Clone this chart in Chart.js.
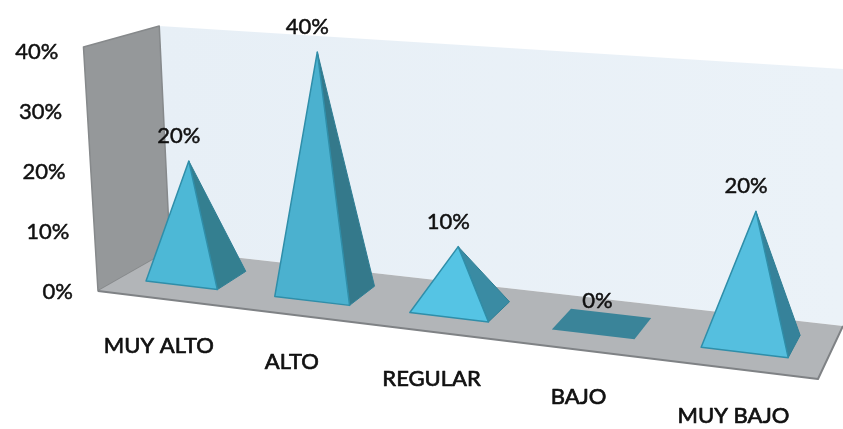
<!DOCTYPE html>
<html lang="es">
<head>
  <meta charset="UTF-8">
  <title>Pirámides</title>
  <style>
    html, body { margin: 0; padding: 0; background: #fff; }
    canvas { display: block; }
  </style>
</head>
<body>
  <canvas id="myChart" width="843" height="429"></canvas>

  <script src="https://cdn.jsdelivr.net/npm/chart.js"></script>
  <script>
    const categories = ['MUY ALTO', 'ALTO', 'REGULAR', 'BAJO', 'MUY BAJO'];
    const percents = [20, 40, 10, 0, 20];
    const axisTicks = [0, 10, 20, 30, 40];

    // face colours per pyramid, they drift a bit across the floor
    const frontColors = ['#4db8d6', '#4bb1cf', '#55c4e4', '#3a8499', '#55bfdf'];
    const sideColors = ['#347f90', '#34798b', '#3a8ba3', '#3a8499', '#36829a'];

    const FONT = '"Lato", "Open Sans", sans-serif';

    // floor corners on screen: front left, front right, back right, back left
    const floorQuad = [[98, 291], [818, 379], [843, 326], [170, 250]];
    // height stretch at the same four corners
    const stretch = [1.017, 1.2, 1.067, 0.933];
    const depthFront = 0.3, depthBack = 0.73, depthApex = 0.48;
    const uShift = -0.0035;
    const apexScale = 0.98;

    // unit square to floor quad
    function makeHomography(q) {
      const [p0, p1, p2, p3] = q;
      const sx = p0[0] - p1[0] + p2[0] - p3[0];
      const sy = p0[1] - p1[1] + p2[1] - p3[1];
      const dx1 = p1[0] - p2[0], dx2 = p3[0] - p2[0];
      const dy1 = p1[1] - p2[1], dy2 = p3[1] - p2[1];
      const den = dx1 * dy2 - dx2 * dy1;
      const g = (sx * dy2 - dx2 * sy) / den;
      const h = (dx1 * sy - sx * dy1) / den;
      return {
        a: p1[0] - p0[0] + g * p1[0], b: p3[0] - p0[0] + h * p3[0], c: p0[0],
        d: p1[1] - p0[1] + g * p1[1], e: p3[1] - p0[1] + h * p3[1], f: p0[1],
        g, h
      };
    }
    const H = makeHomography(floorQuad);

    // u along the category axis, d into the depth, h pixels above the floor
    function project(u, d, h) {
      const w = H.g * u + H.h * d + 1;
      const fx = (H.a * u + H.b * d + H.c) / w;
      const fy = (H.d * u + H.e * d + H.f) / w;
      const k = (1 - u) * (1 - d) * stretch[0] + u * (1 - d) * stretch[1] +
                u * d * stretch[2] + (1 - u) * d * stretch[3];
      const up = h * k;
      return [fx + up * (fx - 470) * 0.00016, fy - up];
    }

    function poly(ctx, pts, fill, stroke, lw) {
      ctx.beginPath();
      pts.forEach((p, i) => i ? ctx.lineTo(p[0], p[1]) : ctx.moveTo(p[0], p[1]));
      ctx.closePath();
      if (fill) { ctx.fillStyle = fill; ctx.fill(); }
      if (stroke) {
        ctx.strokeStyle = stroke;
        ctx.lineWidth = lw || 1;
        ctx.lineJoin = 'round';
        ctx.stroke();
      }
    }

    // Lato regular is a little light at this size, so thicken it with a thin outline
    function label(ctx, text, x, y, weight) {
      ctx.fillStyle = '#111';
      ctx.strokeStyle = '#111';
      ctx.lineWidth = weight;
      ctx.fillText(text, x, y);
      ctx.strokeText(text, x, y);
    }

    const scenePlugin = {
      id: 'scene',
      beforeDatasetsDraw(chart) {
        const { ctx } = chart;
        const y = chart.scales.y;
        const top = y.getPixelForValue(0) - y.getPixelForValue(y.max);

        const back = ctx.createLinearGradient(160, 0, 843, 0);
        back.addColorStop(0, '#e7eff6');
        back.addColorStop(1, '#ebf2f8');
        poly(ctx, [project(0, 1, 0), project(0, 1, top), project(1, 1, top), project(1, 1, 0)], back);
        poly(ctx, [project(0, 0, 0), project(0, 0, top), project(0, 1, top), project(0, 1, 0)], '#95989a', '#86898b', 1.5);
        poly(ctx, [project(0, 0, 0), project(1, 0, 0), project(1, 1, 0), project(0, 1, 0)], '#b2b5b8');

        ctx.beginPath();
        ctx.moveTo(...project(0, 0, 0));
        ctx.lineTo(...project(1, 0, 0));
        ctx.lineTo(...project(1, 1, 0));
        ctx.strokeStyle = '#7f8285';
        ctx.lineWidth = 2;
        ctx.stroke();
      },
      afterDatasetsDraw(chart) {
        const { ctx, chartArea } = chart;
        const y = chart.scales.y;
        const span = chartArea.right - chartArea.left;
        const meta = chart.getDatasetMeta(0);

        ctx.save();
        ctx.textAlign = 'center';
        ctx.textBaseline = 'middle';

        meta.data.forEach((bar, i) => {
          const props = bar.getProps(['x', 'y', 'base', 'width'], true);
          const u0 = (props.x - props.width / 2 - chartArea.left) / span + uShift;
          const u1 = (props.x + props.width / 2 - chartArea.left) / span + uShift;
          const uc = (u0 + u1) / 2;
          const rise = props.base - props.y;

          const fl = project(u0, depthFront, 0);
          const fr = project(u1, depthFront, 0);
          const br = project(u1, depthBack, 0);
          const bl = project(u0, depthBack, 0);
          const apex = project(uc, depthApex, rise * apexScale);

          if (rise === 0) {
            poly(ctx, [fl, fr, br, bl], frontColors[i]);
          } else {
            poly(ctx, [fr, br, apex], sideColors[i], '#2f7f95', 1);
            poly(ctx, [fl, fr, apex], frontColors[i], '#2f8ea9', 1.5);
          }

          ctx.font = '22px ' + FONT;
          label(ctx, percents[i] + '%', apex[0] + (rise ? -10 : -3), apex[1] - 25, 0.5);

          const edge = project(uc, 0, 0);
          label(ctx, categories[i], edge[0] - 1, edge[1] + 47, 0.7);
        });

        // value axis labels follow the slanted wall edge
        ctx.textAlign = 'right';
        ctx.font = '22px ' + FONT;
        axisTicks.forEach(t => {
          const py = y.getPixelForValue(t);
          const corner = project(0, 0, y.getPixelForValue(0) - py);
          label(ctx, t + '%', corner[0] - 25, py + 1, 0.5);
        });
        ctx.restore();
      }
    };

    new Chart(document.getElementById('myChart'), {
      type: 'bar',
      data: {
        labels: categories,
        datasets: [{
          data: percents,
          backgroundColor: 'transparent',
          borderWidth: 0,
          barPercentage: 0.56,
          categoryPercentage: 1
        }]
      },
      options: {
        responsive: false,
        animation: false,
        layout: { padding: { left: 98, right: 25, top: 51, bottom: 138 } },
        plugins: { legend: { display: false }, tooltip: { enabled: false } },
        scales: {
          x: { display: false },
          y: {
            display: false,
            min: 0,
            max: 40,
            ticks: { stepSize: 10 }
          }
        }
      },
      plugins: [scenePlugin]
    });
  </script>
</body>
</html>
